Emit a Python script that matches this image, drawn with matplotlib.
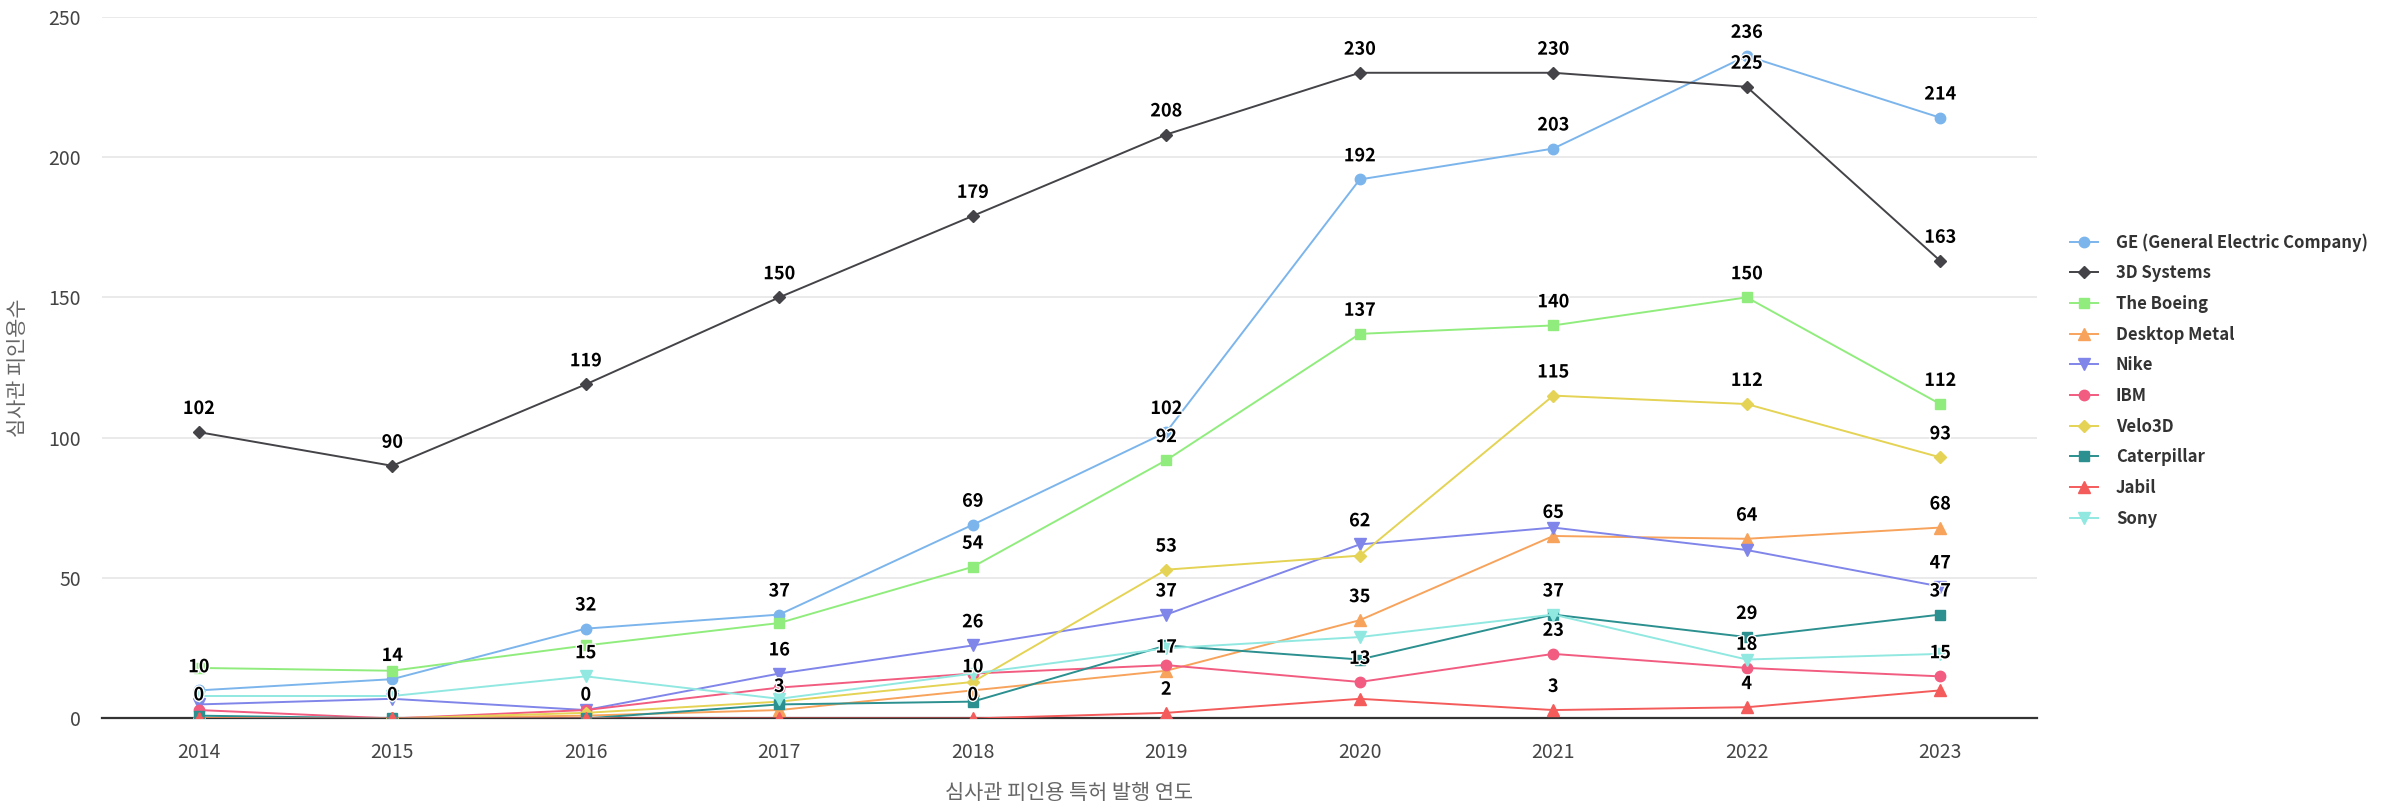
import matplotlib
matplotlib.use("Agg")
import matplotlib.pyplot as plt
import matplotlib.patheffects as pe
from matplotlib.lines import Line2D

plt.rcParams['font.family'] = ['Noto Sans CJK KR', 'DejaVu Sans']

years = ['2014', '2015', '2016', '2017', '2018', '2019', '2020', '2021', '2022', '2023']

names = ['GE (General Electric Company)', '3D Systems', 'The Boeing', 'Desktop Metal',
         'Nike', 'IBM', 'Velo3D', 'Caterpillar', 'Jabil', 'Sony']

ge = [10, 14, 32, 37, 69, 102, 192, 203, 236, 214]
systems3d = [102, 90, 119, 150, 179, 208, 230, 230, 225, 163]
boeing = [18, 17, 26, 34, 54, 92, 137, 140, 150, 112]
desktop_metal = [0, 0, 1, 3, 10, 17, 35, 65, 64, 68]
nike = [5, 7, 3, 16, 26, 37, 62, 68, 60, 47]
ibm = [3, 0, 3, 11, 16, 19, 13, 23, 18, 15]
velo3d = [0, 0, 2, 6, 13, 53, 58, 115, 112, 93]
caterpillar = [1, 0, 0, 5, 6, 26, 21, 37, 29, 37]
jabil = [0, 0, 0, 0, 0, 2, 7, 3, 4, 10]
sony = [8, 8, 15, 7, 16, 25, 29, 37, 21, 23]

# which points show a value label (others hidden by overlap in the original)
labels_shown = [
    list(range(10)),
    list(range(10)),
    [4, 5, 6, 7, 8, 9],
    [3, 4, 5, 6, 7, 8, 9],
    [3, 4, 5, 6, 9],
    [6, 7, 8, 9],
    [5, 7, 8, 9],
    [7, 8, 9],
    [0, 1, 2, 4, 5, 7, 8],
    [2],
]

values = [ge, systems3d, boeing, desktop_metal, nike, ibm, velo3d, caterpillar, jabil, sony]
colors = ['#7cb5ec', '#434348', '#90ed7d', '#f7a35c', '#8085e9',
          '#f15c80', '#e4d354', '#2b908f', '#f45b5b', '#91e8e1']
markers = ['o', 'D', 's', '^', 'v', 'o', 'D', 's', '^', 'v']
msizes = [7.5, 6, 7, 8, 8, 7.5, 6, 7, 8, 8]

fig = plt.figure(figsize=(23.83, 8.11), dpi=100)
ax = fig.add_axes([0.0428, 0.1141, 0.8120, 0.8654])

x = list(range(len(years)))
handles = []
for k in range(len(names)):
    ax.plot(x, values[k], color=colors[k], lw=1.4, marker=markers[k],
            ms=msizes[k], mec=colors[k], zorder=3 + k)
    handles.append(Line2D([0], [0], color=colors[k], lw=1.4, marker=markers[k],
                          ms=msizes[k], mec=colors[k]))
    for i in labels_shown[k]:
        ax.annotate(str(values[k][i]), (i, values[k][i]), xytext=(0, 17),
                    textcoords='offset points', ha='center', va='center',
                    fontsize=13, fontweight='bold', color='black', zorder=30,
                    path_effects=[pe.withStroke(linewidth=2, foreground='white')])

ax.set_xlim(-0.5, 9.5)
ax.set_ylim(0, 250)
ax.set_yticks([0, 50, 100, 150, 200, 250])
ax.set_xticks(x)
ax.set_xticklabels(years)
ax.yaxis.grid(True, color='#e6e6e6', lw=1.2)
ax.set_axisbelow(True)
for s in ['top', 'right', 'left']:
    ax.spines[s].set_visible(False)
ax.spines['bottom'].set_color('#333333')
ax.spines['bottom'].set_linewidth(1.6)
ax.spines['bottom'].set_zorder(2)
ax.tick_params(axis='both', length=0, labelsize=14, labelcolor='#444444')
ax.tick_params(axis='y', pad=15)
ax.tick_params(axis='x', pad=17)

fig.text(1069 / 2383, 1 - 793 / 811, '심사관 피인용 특허 발행 연도', ha='center', va='center',
         fontsize=15, color='#666666')
fig.text(18 / 2383, 1 - 368 / 811, '심사관 피인용수', ha='center', va='center',
         rotation=90, fontsize=15, color='#666666')

leg = fig.legend(handles, names, loc='upper left', bbox_to_anchor=(2070 / 2383, 1 - 233 / 811),
                 frameon=False, borderpad=0, borderaxespad=0, handlelength=1.65,
                 handletextpad=1.1, labelspacing=0.76,
                 prop={'size': 12, 'weight': 'bold'})
for t in leg.get_texts():
    t.set_color('#333333')

fig.savefig('out.png', dpi=100)
